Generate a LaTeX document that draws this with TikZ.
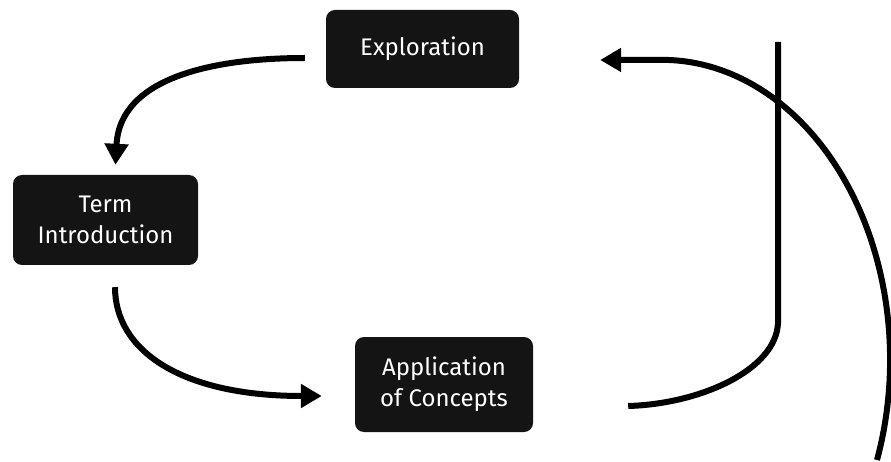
\documentclass[tikz,border=0pt]{standalone}
\usepackage{fontspec}
\setmainfont{Fira Sans}
\usetikzlibrary{arrows.meta}

\begin{document}
\begin{tikzpicture}[x=1pt, y=-1pt,
	caja/.style={fill=black!92, text=white, rounded corners=9pt, align=center, inner sep=0pt, font=\fontsize{24}{31}\selectfont},
	flecha/.style={line width=6pt, -{Triangle[length=21pt, width=23pt]}},
	linea/.style={line width=6pt}]
	\useasboundingbox (0,0) rectangle (891,462);

	% Cajas del ciclo
		\node[caja, minimum width=193pt, minimum height=78pt] (expl) at (422.5,49) {Exploration};
		\node[caja, minimum width=185pt, minimum height=90pt] (term) at (105.5,220) {Term\\Introduction};
		\node[caja, minimum width=178pt, minimum height=95pt] (app) at (444,384.5) {Application\\of Concepts};

	% Puntos de las flechas
		\coordinate (e1) at ([xshift=-21pt, yshift=-9pt]expl.west);
		\coordinate (t1) at ([xshift=10pt, yshift=10pt]term.north);
		\coordinate (t2) at ([xshift=9.5pt, yshift=-22pt]term.south);
		\coordinate (a1) at ([xshift=-33pt, yshift=-11.5pt]app.west);
		\coordinate (a2) at ([xshift=95pt, yshift=-21.5pt]app.east);
		\coordinate (e2) at ([xshift=81pt, yshift=-11pt]expl.east);
		\coordinate (barra) at (778,42);
		\coordinate (abajo) at (877,460);

	% Flechas del ciclo
		\draw[flecha] (e1) .. controls (220,58) and (120,75) .. (t1);
		\draw[flecha] (t2) .. controls (115,350) and (180,396) .. (a1);

	% Salida y vuelta
		\draw[linea] (a2) .. controls (700,404) and (776,370) .. (778,323) -- (barra);
		\draw[flecha] (abajo) arc[start angle=19.5, end angle=-90, x radius=228, y radius=300] -- (e2);
\end{tikzpicture}
\end{document}
